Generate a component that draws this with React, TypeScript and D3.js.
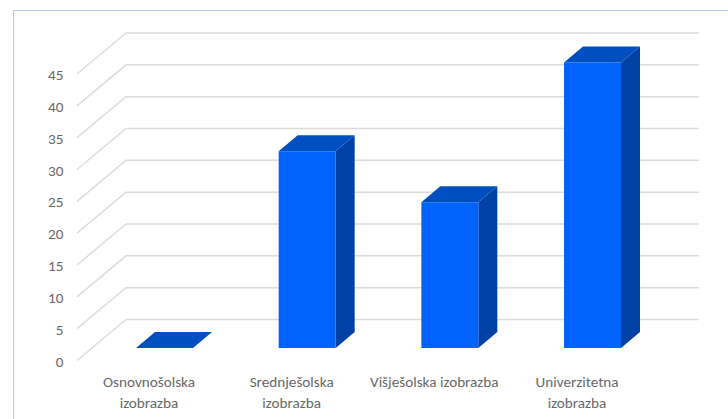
import React from "react";
import * as d3 from "d3";

const categories: string[][] = [
  ["Osnovnošolska", "izobrazba"],
  ["Srednješolska", "izobrazba"],
  ["Višješolska izobrazba"],
  ["Univerzitetna", "izobrazba"],
];
const values = [0, 30.9, 22.9, 44.85];
const ticks = [0, 5, 10, 15, 20, 25, 30, 35, 40, 45];

const W = 728;
const H = 419;
const font = "Carlito, Calibri, Lato, 'Open Sans', sans-serif";
const FRONT_X = 77;
const BACK_X = 126;
const RIGHT_X = 699;
const DEPTH_Y = 41;
const BAR_W = 57;
const DX = 19;
const DY = 16;
const FLOOR_OFFSET = -12.5;

export default function App() {
  const y = d3.scaleLinear().domain([0, 45]).range([360.5, 74]);
  const x = d3.scalePoint<number>().domain([0, 1, 2, 3]).range([136, 564]);
  return (
    <svg width={W} height={H} style={{ position: "absolute", left: 0, top: 0 }}>
      <rect width={W} height={H} fill="#fff" />
      <path d={`M13.5,${H}V10.5H${W}`} fill="none" stroke="#b4cbe6" strokeWidth={1} />
      {ticks.map((t) => (
        <g key={t}>
          <path
            d={`M${FRONT_X},${y(t)}L${BACK_X},${y(t) - DEPTH_Y}H${RIGHT_X}`}
            fill="none"
            stroke="#dcdcdc"
            strokeWidth={1.5}
          />
          <text x={63.5} y={y(t) + 6} textAnchor="end" fontFamily={font} fontSize={15.2} fill="#686868">
            {t}
          </text>
        </g>
      ))}
      {values.map((v, i) => {
        const x0 = x(i)!;
        const yb = y(0) + FLOOR_OFFSET;
        const yt = y(v) + FLOOR_OFFSET;
        return (
          <g key={i}>
            <path d={`M${x0 + BAR_W},${yt}l${DX},${-DY}V${yb - DY}l${-DX},${DY}Z`} fill="#0041a6" />
            <path d={`M${x0},${yb}V${yt}H${x0 + BAR_W}V${yb}Z`} fill="#0063fb" />
            <path d={`M${x0},${yt}l${DX},${-DY}H${x0 + BAR_W + DX}l${-DX},${DY}Z`} fill="#004fc0" />
          </g>
        );
      })}
      {categories.map((lines, i) => {
        const cx = x(i)! + 13;
        return (
          <text key={i} textAnchor="middle" fontFamily={font} fontSize={15.2} fill="#686868">
            {lines.map((l, j) => (
              <tspan key={j} x={cx} y={387 + j * 21}>
                {l}
              </tspan>
            ))}
          </text>
        );
      })}
    </svg>
  );
}
